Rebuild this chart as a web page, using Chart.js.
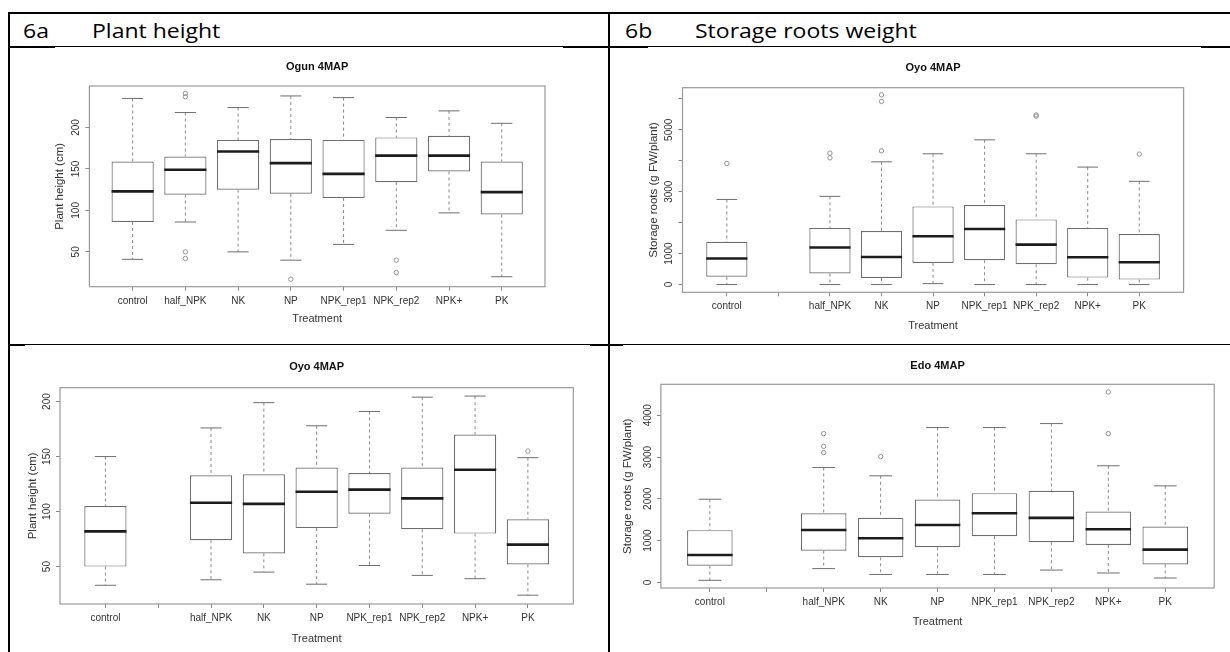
<!DOCTYPE html>
<html>
<head>
<meta charset="utf-8">
<title>6a Plant height / 6b Storage roots weight</title>
<script src="https://cdn.jsdelivr.net/npm/chart.js@4.4.0/dist/chart.umd.min.js"></script>
<style>
  html, body { margin: 0; padding: 0; background: #fff; }
  body { position: relative; width: 1230px; height: 652px; overflow: hidden; }
  .rule { position: absolute; background: #000; z-index: 2; }
  .head {
    position: absolute; top: 21px; font-family: "Open Sans", sans-serif; font-size: 20px;
    line-height: 20px; color: #000; white-space: nowrap; transform: scaleX(1.15); transform-origin: 0 0;
  }
  canvas { position: absolute; }
</style>
</head>
<body>
<!-- table rules -->
<div class="rule" style="left:8px;top:12px;width:1222px;height:2px"></div>
<div class="rule" style="left:8px;top:12px;width:2px;height:640px"></div>
<div class="rule" style="left:608px;top:12px;width:2px;height:640px"></div>
<div class="rule" style="left:8px;top:46px;width:1222px;height:1px"></div>
<div class="rule" style="left:8px;top:46px;width:47px;height:2px"></div>
<div class="rule" style="left:563px;top:46px;width:85px;height:2px"></div>
<div class="rule" style="left:1201px;top:46px;width:29px;height:2px"></div>
<div class="rule" style="left:8px;top:344px;width:1222px;height:1px"></div>
<div class="rule" style="left:8px;top:344px;width:17px;height:2px"></div>
<div class="rule" style="left:590px;top:344px;width:33px;height:2px"></div>

<div class="head" style="left:23px">6a</div>
<div class="head" style="left:92px">Plant height</div>
<div class="head" style="left:625px">6b</div>
<div class="head" style="left:695px">Storage roots weight</div>

<canvas id="ogunHeight" width="598" height="296" style="left:10px;top:47px"></canvas>
<canvas id="oyoRoots" width="619" height="296" style="left:611px;top:47px"></canvas>
<canvas id="oyoHeight" width="598" height="306" style="left:10px;top:346px"></canvas>
<canvas id="edoRoots" width="619" height="306" style="left:611px;top:346px"></canvas>

<script>
// treatments, and the axis slots (Oyo / Edo plots have an empty slot after control)
const treatments = ['control', 'half_NPK', 'NK', 'NP', 'NPK_rep1', 'NPK_rep2', 'NPK+', 'PK'];
const slotsPlain = ['control', 'half_NPK', 'NK', 'NP', 'NPK_rep1', 'NPK_rep2', 'NPK+', 'PK'];
const slotsGap = ['control', '', 'half_NPK', 'NK', 'NP', 'NPK_rep1', 'NPK_rep2', 'NPK+', 'PK'];

// each row: [lower whisker, Q1, median, Q3, upper whisker], in treatment order
const ogunHeight = [
  [41, 86, 123, 159, 235], [86, 119, 149, 165, 218], [50, 125, 171, 185, 224], [40, 120, 157, 186, 238],
  [59, 115, 144, 185, 236], [76, 134, 166, 188, 212], [97, 147, 166, 190, 220], [20, 95, 122, 159, 205]
];
const ogunHeightOut = [[], [241, 237, 50, 42], [], [17], [], [40, 25], [], []];

const oyoRoots = [
  [0, 250, 840, 1380, 2750], [0, 355, 1195, 1830, 2850], [0, 215, 890, 1730, 3965], [30, 700, 1560, 2525, 4225],
  [0, 785, 1795, 2570, 4675], [0, 655, 1290, 2105, 4225], [0, 225, 880, 1830, 3795], [0, 160, 720, 1635, 3335]
];
const oyoRootsOut = [[3910], [4245, 4095], [6130, 5915, 4320], [], [], [5480, 5440], [], [4215]];

const oyoHeight = [
  [33, 50, 82, 105, 150], [38, 74, 108, 133, 176], [45, 62, 107, 134, 199], [34, 85, 118, 140, 178],
  [51, 98, 120, 135, 191], [42, 84, 112, 140, 204], [39, 80, 138, 170, 205], [24, 52, 70, 93, 149]
];
const oyoHeightOut = [[], [], [], [], [], [], [], [155]];

const edoRoots = [
  [50, 400, 655, 1250, 1990], [330, 760, 1255, 1655, 2750], [190, 600, 1055, 1545, 2550], [190, 840, 1375, 1985, 3705],
  [190, 1105, 1655, 2135, 3705], [295, 960, 1545, 2190, 3800], [225, 895, 1270, 1695, 2790], [105, 430, 785, 1335, 2310]
];
const edoRootsOut = [[], [3560, 3255, 3105], [3010], [], [], [], [4555, 3560], []];

// y ticks and their labels
const heightTicks = [50, 100, 150, 200];
const heightLabels = ['50', '100', '150', '200'];
const oyoRootTicks = [0, 1000, 2000, 3000, 4000, 5000, 6000];
const oyoRootLabels = ['0', '1000', '', '3000', '', '5000', ''];
const edoRootTicks = [0, 1000, 2000, 3000, 4000];
const edoRootLabels = ['0', '1000', '2000', '3000', '4000'];

const sans = '"Liberation Sans", Arial, sans-serif';
Chart.defaults.font.family = sans;

// R style frame round the plot and vertical y tick labels
const rFrame = {
  id: 'rFrame',
  beforeDatasetsDraw(chart) {
    const { ctx, chartArea: a } = chart;
    ctx.save();
    ctx.strokeStyle = '#9a9a9a';
    ctx.lineWidth = 1.2;
    ctx.strokeRect(a.left, a.top, a.right - a.left, a.bottom - a.top);
    ctx.restore();
  },
  afterDraw(chart) {
    const { ctx, chartArea: a, scales: { y } } = chart;
    ctx.save();
    ctx.fillStyle = '#333';
    ctx.font = '10px ' + sans;
    ctx.textAlign = 'center';
    ctx.textBaseline = 'middle';
    y.ticks.forEach(t => {
      if (!t.label) return;
      ctx.save();
      ctx.translate(a.left - 13, y.getPixelForValue(t.value));
      ctx.rotate(-Math.PI / 2);
      ctx.fillText(t.label, 0, 0);
      ctx.restore();
    });
    ctx.restore();
  }
};

function boxChart(p) {
  const n = p.slots.length;
  const pos = treatments.map(t => p.slots.indexOf(t) + 1);
  const boxes = [], whiskers = [], caps = [], medians = [], outliers = [];
  p.stats.forEach((s, i) => {
    const x = pos[i];
    boxes.push({ x, y: [s[1], s[3]] });
    whiskers.push({ x, y: s[4] }, { x, y: s[3] }, { x, y: null }, { x, y: s[1] }, { x, y: s[0] }, { x, y: null });
    caps.push({ x: x - 0.2, y: s[4] }, { x: x + 0.2, y: s[4] }, { x, y: null },
              { x: x - 0.2, y: s[0] }, { x: x + 0.2, y: s[0] }, { x, y: null });
    medians.push({ x: x - 0.4, y: s[2] }, { x: x + 0.4, y: s[2] }, { x, y: null });
    p.out[i].forEach(v => outliers.push({ x, y: v }));
  });

  return new Chart(document.getElementById(p.id), {
    type: 'bar',
    data: {
      datasets: [
        { type: 'line', data: medians, borderColor: '#1c1c1c', borderWidth: 2.6, pointRadius: 0, order: 1 },
        { type: 'scatter', data: outliers, pointStyle: 'circle', pointRadius: 2.2, borderWidth: 0.9,
          borderColor: '#8a8a8a', backgroundColor: 'rgba(0,0,0,0)', order: 2 },
        { type: 'line', data: caps, borderColor: '#6e6e6e', borderWidth: 1, pointRadius: 0, order: 3 },
        { data: boxes, backgroundColor: '#fff', borderColor: '#6e6e6e', borderWidth: 1.2, borderSkipped: false,
          categoryPercentage: 0.8, barPercentage: 1, order: 4 },
        { type: 'line', data: whiskers, borderColor: '#8a8a8a', borderWidth: 1, borderDash: [3, 3],
          pointRadius: 0, order: 5 }
      ]
    },
    options: {
      responsive: false,
      animation: false,
      events: [],
      layout: { padding: { left: 0, top: 0, bottom: 0, right: p.padRight } },
      plugins: {
        legend: { display: false },
        tooltip: { enabled: false },
        title: {
          display: true, text: p.title, fullSize: false, color: '#111',
          font: { family: sans, size: 11, weight: 'bold' },
          padding: { top: p.titlePad[0] + 0.6, bottom: p.titlePad[1] + 0.6 }
        }
      },
      scales: {
        x: {
          type: 'linear',
          min: 0.5 - 0.04 * n,
          max: n + 0.5 + 0.04 * n,
          offset: false,
          afterBuildTicks: s => { s.ticks = p.slots.map((c, i) => ({ value: i + 1 })); },
          afterFit: s => { s.height = p.xHeight; },
          ticks: { autoSkip: false, maxRotation: 0, padding: 4.3, color: '#333',
                   font: { family: sans, size: 10 }, callback: v => p.slots[v - 1] },
          grid: { offset: false, drawOnChartArea: false, tickLength: 4, color: '#8a8a8a' },
          border: { display: false },
          title: { display: true, text: 'Treatment', color: '#333', font: { family: sans, size: 11 },
                   padding: { top: 0, bottom: p.xTitlePad + 0.6 } }
        },
        y: {
          type: 'linear',
          min: p.ymin,
          max: p.ymax,
          afterBuildTicks: s => { s.ticks = p.yTicks.map(v => ({ value: v })); },
          afterFit: s => { s.width = p.yWidth; },
          ticks: { autoSkip: false, color: 'rgba(0,0,0,0)', callback: v => p.yLabels[p.yTicks.indexOf(v)] },
          grid: { drawOnChartArea: false, tickLength: 4, color: '#8a8a8a' },
          border: { display: false },
          title: { display: true, text: p.yTitle, color: '#333', font: { family: sans, size: 11.5 },
                   padding: { top: p.yTitlePad, bottom: 0 } }
        }
      }
    },
    plugins: [rFrame]
  });
}

boxChart({
  id: 'ogunHeight', title: 'Ogun 4MAP', yTitle: 'Plant height (cm)', slots: slotsPlain,
  stats: ogunHeight, out: ogunHeightOut, yTicks: heightTicks, yLabels: heightLabels, ymin: 8, ymax: 250,
  yWidth: 79.4, xHeight: 56.3, padRight: 63, titlePad: [12.5, 12.1], yTitlePad: 43, xTitlePad: 16.5
});
boxChart({
  id: 'oyoRoots', title: 'Oyo 4MAP', yTitle: 'Storage roots (g FW/plant)', slots: slotsGap,
  stats: oyoRoots, out: oyoRootsOut, yTicks: oyoRootTicks, yLabels: oyoRootLabels, ymin: -250, ymax: 6360,
  yWidth: 71.5, xHeight: 50.7, padRight: 46.4, titlePad: [14.1, 12.2], yTitlePad: 36, xTitlePad: 9.8
});
boxChart({
  id: 'oyoHeight', title: 'Oyo 4MAP', yTitle: 'Plant height (cm)', slots: slotsGap,
  stats: oyoHeight, out: oyoHeightOut, yTicks: heightTicks, yLabels: heightLabels, ymin: 16, ymax: 212.6,
  yWidth: 50, xHeight: 48, padRight: 34.7, titlePad: [13.5, 13.8], yTitlePad: 15.6, xTitlePad: 5.8
});
boxChart({
  id: 'edoRoots', title: 'Edo 4MAP', yTitle: 'Storage roots (g FW/plant)', slots: slotsGap,
  stats: edoRoots, out: edoRootsOut, yTicks: edoRootTicks, yLabels: edoRootLabels, ymin: -134, ymax: 4740,
  yWidth: 49.9, xHeight: 64, padRight: 15.8, titlePad: [12.5, 11.4], yTitlePad: 10.1, xTitlePad: 23.1
});
</script>
</body>
</html>
